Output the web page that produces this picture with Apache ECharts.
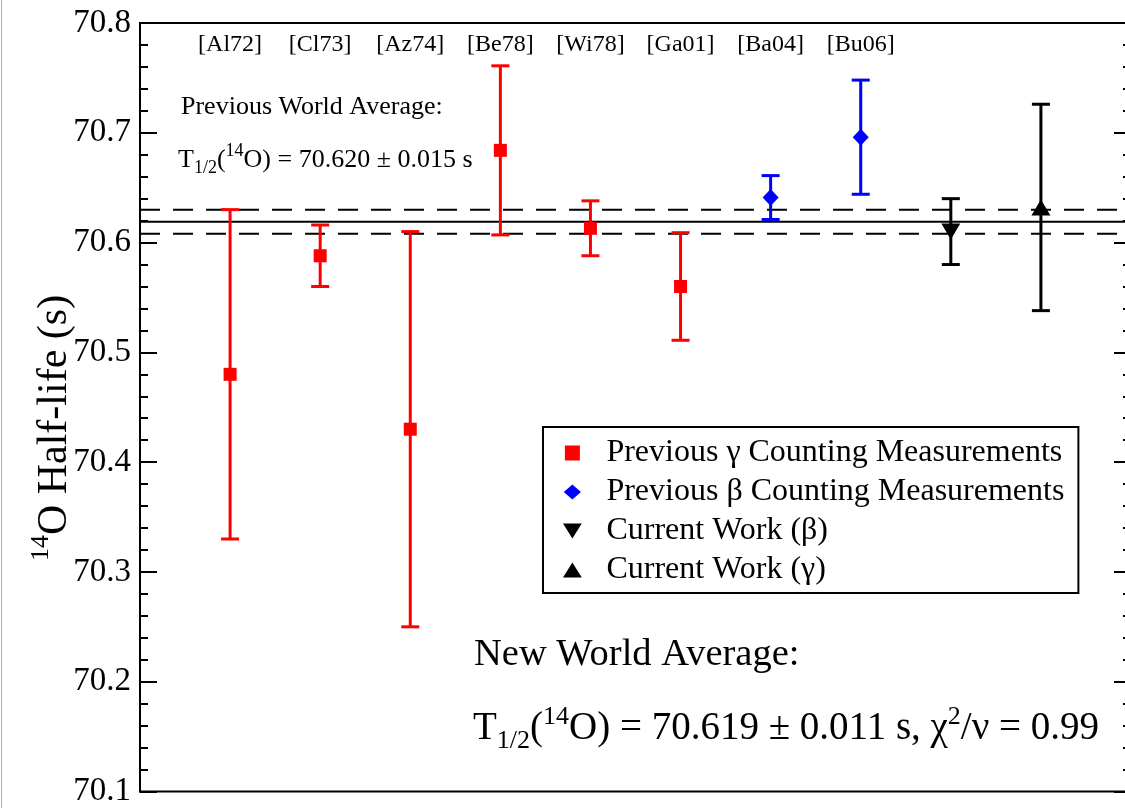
<!DOCTYPE html>
<html>
<head>
<meta charset="utf-8">
<script src="https://cdn.jsdelivr.net/npm/echarts@6/dist/echarts.min.js"></script>
<style>
html, body { margin: 0; padding: 0; background: #fff; overflow: hidden; }
#chart { width: 1145px; height: 808px; }
</style>
</head>
<body>
<div id="chart"></div>
<script>
"use strict";

/*****Data start*****/
var refLabels = ['[Al72]', '[Cl73]', '[Az74]', '[Be78]', '[Wi78]', '[Ga01]', '[Ba04]', '[Bu06]'];

var gammaX = [1, 2, 3, 4, 5, 6];
var gammaT = [70.480, 70.588, 70.430, 70.684, 70.613, 70.560];
var gammaErr = [0.150, 0.028, 0.180, 0.077, 0.025, 0.049];

var betaX = [7, 8];
var betaT = [70.641, 70.696];
var betaErr = [0.020, 0.052];

var curBetaX = [9];
var curBetaT = [70.610];
var curBetaErr = [0.030];

var curGammaX = [10];
var curGammaT = [70.632];
var curGammaErr = [0.094];

var newAvg = 70.619;
var newAvgErr = 0.011;

var yMin = 70.1, yMax = 70.8, yStep = 0.1;
var xMin = 0, xMax = 11;
/*****Data end*****/

var serif = 'Liberation Serif';

var iconSquare = 'path://M0,0L13,0L13,13L0,13Z';
var iconDiamond = 'path://M8,0L16,7L8,14L0,7Z';
var iconDown = 'path://M0,0L20,0L10,16Z';
var iconUp = 'path://M10,0L20,16L0,16Z';

function points(xs, ys) {
	return xs.map(function (x, i) { return [x, ys[i]]; });
}
function bars(xs, ys, es) {
	return xs.map(function (x, i) { return [x, ys[i] - es[i], ys[i] + es[i]]; });
}

// error bar: vertical stroke with two caps
function errorBar(params, api) {
	var x = api.value(0);
	var lo = api.coord([x, api.value(1)]);
	var hi = api.coord([x, api.value(2)]);
	var w = 9;
	var style = { stroke: api.visual('color'), lineWidth: 3 };
	return {
		type: 'group',
		children: [
			{ type: 'line', shape: { x1: lo[0], y1: lo[1], x2: hi[0], y2: hi[1] }, style: style },
			{ type: 'line', shape: { x1: hi[0] - w, y1: hi[1], x2: hi[0] + w, y2: hi[1] }, style: style },
			{ type: 'line', shape: { x1: lo[0] - w, y1: lo[1], x2: lo[0] + w, y2: lo[1] }, style: style }
		]
	};
}

function errSeries(xs, ys, es, color) {
	return {
		type: 'custom',
		renderItem: errorBar,
		itemStyle: { color: color },
		encode: { x: 0, y: [1, 2] },
		data: bars(xs, ys, es),
		z: 3,
		silent: true
	};
}

function hLine(v, dashed) {
	return {
		type: 'line',
		data: [[xMin, v], [xMax, v]],
		symbol: 'none',
		silent: true,
		z: 1,
		lineStyle: { color: '#000', width: 2, type: dashed ? [20, 13] : 'solid' }
	};
}

var chart = echarts.init(document.getElementById('chart'));

var option = {
	backgroundColor: '#fff',
	animation: false,
	grid: {
		left: 140, top: 23, width: 991, height: 771,
		show: true, borderColor: '#000', borderWidth: 2, backgroundColor: 'transparent'
	},
	xAxis: {
		type: 'value', position: 'top',
		min: xMin, max: xMax, interval: 1,
		axisLine: { show: true, lineStyle: { color: '#000', width: 2 } },
		axisTick: { show: false },
		splitLine: { show: false },
		axisLabel: {
			inside: true, margin: 10,
			color: '#000', fontFamily: serif, fontSize: 24,
			formatter: function (v) {
				var i = Math.round(v) - 1;
				return (i >= 0 && i < refLabels.length) ? refLabels[i] : '';
			}
		}
	},
	yAxis: [{
		type: 'value', min: yMin, max: yMax, interval: yStep,
		axisLine: { show: true, lineStyle: { color: '#000', width: 2 } },
		axisTick: { show: true, inside: true, length: 17, lineStyle: { color: '#000', width: 2 } },
		minorTick: { show: true, splitNumber: 5, length: 8, lineStyle: { color: '#000', width: 2 } },
		splitLine: { show: false },
		axisLabel: {
			color: '#000', fontFamily: serif, fontSize: 33, margin: 9,
			formatter: function (v) { return v.toFixed(1); }
		}
	}, {
		type: 'value', position: 'right', min: yMin, max: yMax, interval: yStep,
		axisLine: { show: true, lineStyle: { color: '#000', width: 2 } },
		axisTick: { show: true, inside: true, length: 17, lineStyle: { color: '#000', width: 2 } },
		minorTick: { show: true, splitNumber: 5, length: 8, lineStyle: { color: '#000', width: 2 } },
		splitLine: { show: false },
		axisLabel: { show: false }
	}],
	legend: {
		left: 543, top: 427,
		orient: 'vertical',
		borderColor: '#000', borderWidth: 2,
		backgroundColor: '#fff',
		padding: [10, 14, 7, 20],
		itemWidth: 58, itemHeight: 15, itemGap: 7,
		symbolKeepAspect: true,
		textStyle: { color: '#000', fontFamily: serif, fontSize: 32, lineHeight: 30 },
		data: [
			{ name: 'Previous γ Counting Measurements', icon: iconSquare },
			{ name: 'Previous β Counting Measurements', icon: iconDiamond },
			{ name: 'Current Work (β)', icon: iconDown },
			{ name: 'Current Work (γ)', icon: iconUp }
		]
	},
	graphic: [
		{ type: 'line', shape: { x1: 1.5, y1: 0, x2: 1.5, y2: 808 }, style: { stroke: '#b0b0b0', lineWidth: 1 } },
		{
			type: 'text', x: 52, y: 428, rotation: Math.PI / 2,
			style: {
				text: '{sup|14}{m|O Half-life (s)}',
				align: 'center', verticalAlign: 'middle',
				fill: '#000',
				rich: {
					m: { fontFamily: serif, fontSize: 42, lineHeight: 48, verticalAlign: 'bottom' },
					sup: { fontFamily: serif, fontSize: 26, lineHeight: 48, verticalAlign: 'top', padding: [0, 0, 12, 0] }
				}
			}
		},
		{
			type: 'text', x: 181, y: 107,
			style: { text: 'Previous World Average:', fill: '#000', font: '26px ' + serif, verticalAlign: 'middle' }
		},
		{
			type: 'text', x: 178, y: 160,
			style: {
				text: '{m|T}{sub|1/2}{m|(}{sup|14}{m|O) = 70.620 ± 0.015 s}',
				fill: '#000', verticalAlign: 'middle',
				rich: {
					m: { fontFamily: serif, fontSize: 26, lineHeight: 35, verticalAlign: 'middle' },
					sub: { fontFamily: serif, fontSize: 18, lineHeight: 35, verticalAlign: 'bottom' },
					sup: { fontFamily: serif, fontSize: 18, lineHeight: 35, verticalAlign: 'top' }
				}
			}
		},
		{
			type: 'text', x: 474, y: 655,
			style: { text: 'New World Average:', fill: '#000', font: '38.5px ' + serif, verticalAlign: 'middle' }
		},
		{
			type: 'text', x: 473, y: 729,
			style: {
				text: '{m|T}{sub|1/2}{m|(}{sup|14}{m|O) = 70.619 ± 0.011 s, χ}{sup|2}{m|/ν = 0.99}',
				fill: '#000', verticalAlign: 'middle',
				rich: {
					m: { fontFamily: serif, fontSize: 39, lineHeight: 50, verticalAlign: 'middle' },
					sub: { fontFamily: serif, fontSize: 26, lineHeight: 50, verticalAlign: 'bottom' },
					sup: { fontFamily: serif, fontSize: 26, lineHeight: 50, verticalAlign: 'top' }
				}
			}
		}
	],
	series: [
		hLine(newAvg, false),
		hLine(newAvg + newAvgErr, true),
		hLine(newAvg - newAvgErr, true),
		errSeries(gammaX, gammaT, gammaErr, '#ff0000'),
		errSeries(betaX, betaT, betaErr, '#0000ff'),
		errSeries(curBetaX, curBetaT, curBetaErr, '#000'),
		errSeries(curGammaX, curGammaT, curGammaErr, '#000'),
		{
			name: 'Previous γ Counting Measurements', type: 'scatter',
			symbol: 'rect', symbolSize: 13, itemStyle: { color: '#ff0000', opacity: 1 }, z: 5,
			data: points(gammaX, gammaT)
		},
		{
			name: 'Previous β Counting Measurements', type: 'scatter',
			symbol: 'diamond', symbolSize: [16, 17], itemStyle: { color: '#0000ff', opacity: 1 }, z: 5,
			data: points(betaX, betaT)
		},
		{
			name: 'Current Work (β)', type: 'scatter',
			symbol: iconDown, symbolSize: [19, 16], itemStyle: { color: '#000', opacity: 1 }, z: 5,
			data: points(curBetaX, curBetaT)
		},
		{
			name: 'Current Work (γ)', type: 'scatter',
			symbol: iconUp, symbolSize: [19, 16], itemStyle: { color: '#000', opacity: 1 }, z: 5,
			data: points(curGammaX, curGammaT)
		}
	]
};

chart.setOption(option);
</script>
</body>
</html>
